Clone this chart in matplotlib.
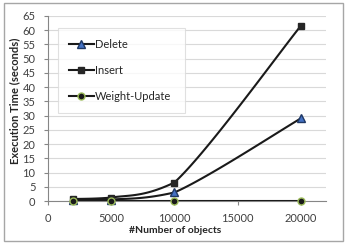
import numpy as np
import matplotlib
matplotlib.use("Agg")
import matplotlib.pyplot as plt
from matplotlib.patches import Rectangle

objects = [2000, 5000, 10000, 20000]
delete_t = [0.3, 0.5, 3.0, 29.0]
insert_t = [0.7, 1.2, 6.5, 61.5]
weight_t = [0.1, 0.1, 0.1, 0.1]
x_ticks = [0, 5000, 10000, 15000, 20000]
y_ticks = list(range(0, 70, 5))

plt.rcParams['font.family'] = ['Lato', 'DejaVu Sans']

def smooth(xs, ys, n=40):
    P = np.column_stack([xs, ys]).astype(float)
    P = np.vstack([P[0], P, P[-1]])
    out = []
    for i in range(1, len(P) - 2):
        p0, p1, p2, p3 = P[i-1], P[i], P[i+1], P[i+2]
        c1 = p1 + (p2 - p0) / 6.0
        c2 = p2 - (p3 - p1) / 6.0
        c1[1] = max(c1[1], min(p1[1], p2[1]))
        c2[1] = max(c2[1], min(p1[1], p2[1]))
        t = np.linspace(0, 1, n)[:, None]
        seg = ((1-t)**3)*p1 + 3*((1-t)**2)*t*c1 + 3*(1-t)*t**2*c2 + t**3*p2
        out.append(seg if i == 1 else seg[1:])
    s = np.vstack(out)
    return s[:, 0], s[:, 1]

W, H = 345, 244
fig = plt.figure(figsize=(W/100, H/100), dpi=100)
ax = fig.add_axes([48/W, 43/H, (326-48)/W, (201-16)/H])

series = [
    ("Delete", delete_t, dict(marker='^', markerfacecolor='#4472C4', markeredgecolor='#1F3864', markersize=5.5)),
    ("Insert", insert_t, dict(marker='s', markerfacecolor='#262626', markeredgecolor='#262626', markersize=4.5)),
    ("Weight-Update", weight_t, dict(marker='o', markerfacecolor='#1a1a1a', markeredgecolor='#9BBB59', markersize=5, markeredgewidth=1.0)),
]
for name, ys, mk in series:
    sx, sy = smooth(objects, ys)
    ax.plot(sx, sy, color='#1a1a1a', lw=1.5, zorder=3)
    ax.plot(objects, ys, linestyle='none', zorder=4, clip_on=False, **mk)
    ax.plot([], [], color='#1a1a1a', lw=1.5, label=name, **mk)

ax.set_xlim(0, 22000)
ax.set_ylim(0, 65)
ax.set_xticks(x_ticks)
ax.set_yticks(y_ticks)
ax.yaxis.grid(True, color='#d9d9d9', lw=0.8)
ax.set_axisbelow(True)
for sp in ['top', 'right']:
    ax.spines[sp].set_visible(False)
for sp in ['left', 'bottom']:
    ax.spines[sp].set_color('#868686')
    ax.spines[sp].set_linewidth(0.8)
ax.tick_params(axis='both', labelsize=8, colors='#404040')
ax.tick_params(axis='y', length=3, direction='out', color='#868686', pad=6)
ax.tick_params(axis='x', length=3, direction='out', color='#868686', pad=6)
ax.set_xlabel('#Number of objects', fontsize=7.5, fontweight='bold', color='#262626')
ax.set_ylabel('Execution Time (seconds)', fontsize=8, fontweight='bold', color='#262626')
ax.xaxis.set_label_coords((175-48)/(326-48), -(226-201)/(201-16))
ax.yaxis.set_label_coords(-(48-20)/(326-48), 1 - (101-16)/(201-16))

leg = ax.legend(loc='upper left',
                bbox_to_anchor=((58-48)/(326-48), 1 - (111-16)/(201-16), (185-58)/(326-48), (111-28)/(201-16)),
                mode='expand',
                frameon=True, fancybox=False, edgecolor='#d9d9d9', fontsize=8,
                labelspacing=1.35, handlelength=2.2, handletextpad=0.1,
                borderpad=1.0, borderaxespad=0, numpoints=1)
leg.get_frame().set_linewidth(0.8)
for t in leg.get_texts():
    t.set_color('#262626')

fig.add_artist(Rectangle((4/W, 3/H), (343-4)/W, (241-3)/H, transform=fig.transFigure,
                         fill=False, edgecolor='#a6a6a6', lw=1))
fig.savefig('out.png', dpi=100)
